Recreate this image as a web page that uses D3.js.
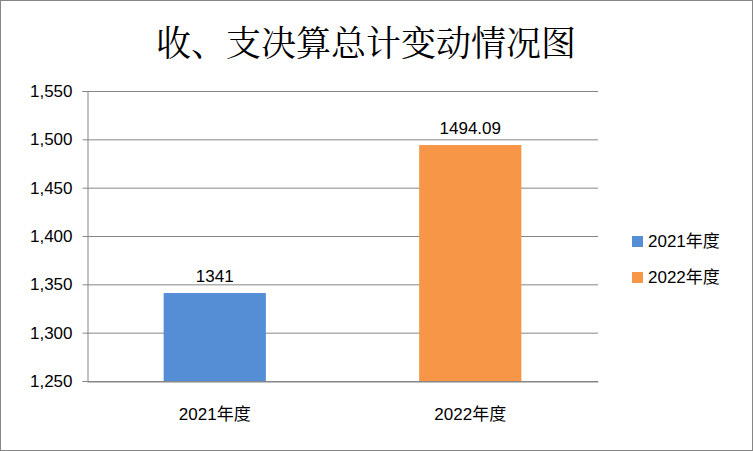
<!DOCTYPE html>
<html><head><meta charset="utf-8">
<script src="https://cdn.jsdelivr.net/npm/d3@7"></script>
<style>body{margin:0;background:#fff}svg{display:block}</style>
</head><body>
<script>
const categories = ["2021年度", "2022年度"];
const values = [1341, 1494.09];
const colors = ["#558ED5", "#F79646"];
const yTicks = [1250, 1300, 1350, 1400, 1450, 1500, 1550];

const W = 753, H = 451;
const m = { left: 87, right: 598, top: 91, bottom: 381 };
const font = "'Liberation Sans','Noto Sans CJK SC',sans-serif";

const svg = d3.select("body").append("svg").attr("width", W).attr("height", H);
svg.append("rect").attr("x", 0.5).attr("y", 0.5).attr("width", W - 1).attr("height", H - 1)
  .attr("fill", "#fff").attr("stroke", "#868686");

svg.append("text").attr("x", 366).attr("y", 56).attr("text-anchor", "middle")
  .attr("font-family", "'Noto Serif CJK SC','Noto Sans CJK SC',serif").attr("font-size", 35)
  .text("收、支决算总计变动情况图");

const x = d3.scaleBand().domain(categories).range([m.left, m.right]).paddingInner(0.6).paddingOuter(0.3);
const y = d3.scaleLinear().domain([1250, 1550]).range([m.bottom, m.top]);

svg.append("g").selectAll("line").data(yTicks).join("line")
  .attr("x1", m.left).attr("x2", m.right).attr("y1", d => y(d) + 0.5).attr("y2", d => y(d) + 0.5)
  .attr("stroke", "#868686");

const ya = svg.append("g").attr("transform", `translate(${m.left + 0.5},0)`)
  .call(d3.axisLeft(y).tickValues(yTicks).tickSize(5).tickPadding(10));
ya.selectAll("text").attr("font-family", font).attr("font-size", 17).attr("fill", "#000");
ya.selectAll("line,path").attr("stroke", "#868686");

const xa = svg.append("g").attr("transform", `translate(0,${m.bottom + 0.5})`)
  .call(d3.axisBottom(x).tickSize(0).tickPadding(26));
xa.selectAll("text").attr("font-family", font).attr("font-size", 17).attr("fill", "#000");
xa.select("path").attr("stroke", "#868686");

svg.append("g").selectAll("rect").data(values).join("rect")
  .attr("x", (d, i) => x(categories[i])).attr("width", x.bandwidth())
  .attr("y", d => y(d)).attr("height", d => y(1250) - y(d))
  .attr("fill", (d, i) => colors[i]);

svg.append("g").selectAll("text").data(values).join("text")
  .attr("x", (d, i) => x(categories[i]) + x.bandwidth() / 2).attr("y", d => y(d) - 11)
  .attr("text-anchor", "middle").attr("font-family", font).attr("font-size", 17)
  .text(d => d);

const lg = svg.append("g").selectAll("g").data(categories).join("g")
  .attr("transform", (d, i) => `translate(632,${236 + i * 36})`);
lg.append("rect").attr("width", 11).attr("height", 11).attr("fill", (d, i) => colors[i]);
lg.append("text").attr("x", 16).attr("y", 11).attr("font-family", font).attr("font-size", 17).text(d => d);
</script>
</body></html>
